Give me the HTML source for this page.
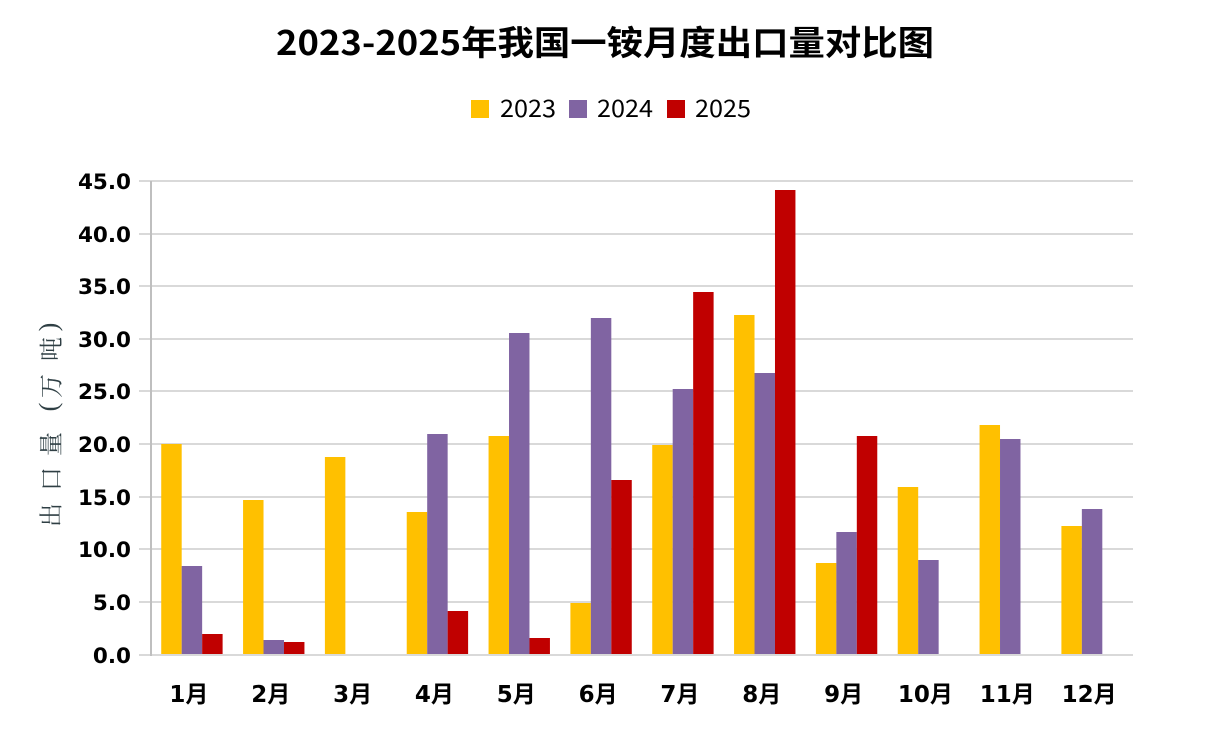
<!DOCTYPE html>
<html><head><meta charset="utf-8"><style>
html,body{margin:0;padding:0;background:#fff;}
svg{display:block;}
</style></head><body>
<svg width="1210" height="750" viewBox="0 0 1210 750" xmlns="http://www.w3.org/2000/svg">
<rect width="1210" height="750" fill="#fff"/>
<text x="276" y="55" textLength="658" lengthAdjust="spacingAndGlyphs" font-family="'Noto Sans CJK SC','Liberation Sans',sans-serif" font-size="34" font-weight="bold" fill="#000">2023-2025年我国一铵月度出口量对比图</text>
<rect x="471" y="100" width="18" height="18" fill="#FFC000"/>
<text x="500" y="117" textLength="56" lengthAdjust="spacingAndGlyphs" font-family="'Noto Sans CJK SC','Liberation Sans',sans-serif" font-size="24" fill="#000">2023</text>
<rect x="569" y="100" width="18" height="18" fill="#8064A2"/>
<text x="597" y="117" textLength="56" lengthAdjust="spacingAndGlyphs" font-family="'Noto Sans CJK SC','Liberation Sans',sans-serif" font-size="24" fill="#000">2024</text>
<rect x="667" y="100" width="18" height="18" fill="#C00000"/>
<text x="695" y="117" textLength="56" lengthAdjust="spacingAndGlyphs" font-family="'Noto Sans CJK SC','Liberation Sans',sans-serif" font-size="24" fill="#000">2025</text>
<g fill="#d9d9d9">
<rect x="139" y="180" width="994" height="2"/>
<rect x="139" y="233" width="994" height="2"/>
<rect x="139" y="285" width="994" height="2"/>
<rect x="139" y="338" width="994" height="2"/>
<rect x="139" y="390" width="994" height="2"/>
<rect x="139" y="443" width="994" height="2"/>
<rect x="139" y="496" width="994" height="2"/>
<rect x="139" y="548" width="994" height="2"/>
<rect x="139" y="601" width="994" height="2"/>
<rect x="139" y="654" width="994" height="2"/>
</g>
<rect x="150" y="181" width="2" height="475" fill="#bfbfbf"/>
<g font-family="'DejaVu Sans',sans-serif" font-size="21.5" font-weight="bold" fill="#000" text-anchor="end">
<text x="131" y="189">45.0</text>
<text x="131" y="242">40.0</text>
<text x="131" y="294">35.0</text>
<text x="131" y="347">30.0</text>
<text x="131" y="399">25.0</text>
<text x="131" y="452">20.0</text>
<text x="131" y="505">15.0</text>
<text x="131" y="557">10.0</text>
<text x="131" y="610">5.0</text>
<text x="131" y="663">0.0</text>
</g>
<g font-family="'Noto Serif CJK SC','Noto Sans CJK SC',serif" font-size="24" fill="#2f3f44" text-anchor="middle" dominant-baseline="central">
<text transform="translate(49,515) rotate(-90)">出</text>
<text transform="translate(49,479) rotate(-90)">口</text>
<text transform="translate(49,444) rotate(-90)">量</text>
<text transform="translate(49,386) rotate(-90)">万</text>
<text transform="translate(49,349) rotate(-90)">吨</text>
</g>
<g font-family="'Liberation Serif',serif" font-size="26" fill="#2f3f44" text-anchor="middle">
<text transform="translate(57,407) rotate(-90)">(</text>
<text transform="translate(57,327) rotate(-90)">)</text>
</g>
<g id="bars"></g>
<g font-family="'DejaVu Sans','Noto Sans CJK SC',sans-serif" font-size="23" font-weight="bold" fill="#000" text-anchor="middle" id="xl"></g>
<script>
var tops=[[444,566,634],[500,640,642],[457,654,654],[512,434,611],[436,333,638],[603,318,480],[445,389,292],[315,373,190],[563,532,436],[487,560,654],[425,439,654],[526,509,654]];
var cols=["#FFC000","#8064A2","#C00000"];
var cw=(1133-151)/12, bw=cw/4;
var g=document.getElementById("bars"), xl=document.getElementById("xl");
var ns="http://www.w3.org/2000/svg";
for(var i=0;i<12;i++){
 for(var j=0;j<3;j++){
  var t=tops[i][j]; if(t>=654) continue;
  var r=document.createElementNS(ns,"rect");
  var x=151+i*cw+bw/2+j*bw;
  r.setAttribute("x",x.toFixed(2)); r.setAttribute("y",t);
  r.setAttribute("width",bw.toFixed(2)); r.setAttribute("height",654-t);
  r.setAttribute("fill",cols[j]); g.appendChild(r);
 }
 var tx=document.createElementNS(ns,"text");
 tx.setAttribute("x",(151+(i+0.5)*cw-3).toFixed(1)); tx.setAttribute("y","702");
 tx.textContent=(i+1)+"月"; xl.appendChild(tx);
}
</script>
</svg>
</body></html>
